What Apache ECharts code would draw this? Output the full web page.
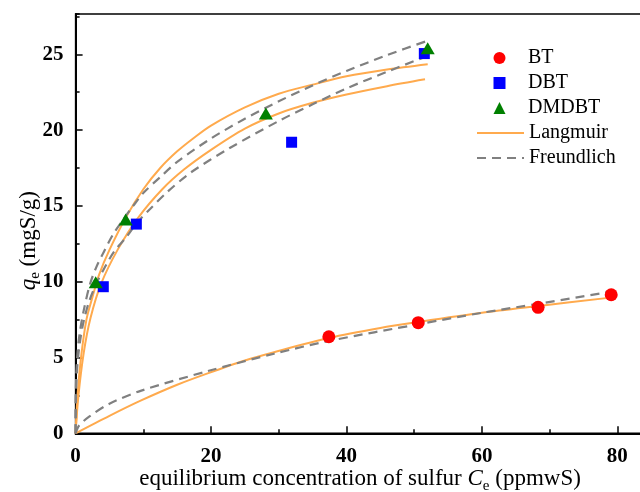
<!DOCTYPE html>
<html>
<head>
<meta charset="utf-8">
<script src="https://cdn.jsdelivr.net/npm/echarts@6/dist/echarts.min.js"></script>
<style>html,body{margin:0;padding:0;background:#fff;}#c{width:640px;height:492px;}</style>
</head>
<body>
<div id="c"></div>
<script>
// Experimental points
const btPoints = [[37.4, 6.37], [50.6, 7.3], [68.3, 8.31], [79.1, 9.14]];
const dbtPoints = [[4.09, 9.67], [8.97, 13.8], [31.9, 19.2], [51.5, 25.05]];
const dmdbtPoints = [[2.97, 9.96], [7.4, 14.1], [28.1, 21.1], [52.0, 25.4]];

// Fitted curves
const langmuirDMDBT = [[0,0],[0.3,2.6],[0.8,5.0],[1.6,7.5],[2.5,9.0],[3.5,10.5],[5,12.1],[7.5,14.3],[10,16.1],[12.5,17.5],[15,18.6],[17.5,19.5],[20,20.3],[25,21.5],[30,22.4],[35,23.0],[40,23.55],[46,24.0],[52,24.35]];
const langmuirDBT = [[0,0],[0.4,2.4],[1.2,5.3],[2.2,7.6],[3.8,9.9],[6.2,12.1],[9.2,14.2],[12.8,16.1],[16,17.4],[20,18.7],[25,20.1],[30,21.1],[35,21.8],[40,22.35],[46,22.9],[51.6,23.35]];
const langmuirBT = [[0,0],[5,1.15],[9.6,2.15],[15,3.2],[19.5,3.95],[25,4.8],[29.3,5.35],[37.5,6.3],[45,6.95],[50.7,7.35],[60,7.95],[68.4,8.4],[79,8.95]];
const freundlichDMDBT = [[0,0],[0.02,2.4],[0.1,3.9],[0.3,5.4],[0.6,6.6],[1.2,8.1],[2.1,9.8],[3,10.9],[4.2,12.0],[5.5,13.1],[6.7,13.9],[8.5,15.0],[10.1,15.9],[12.5,16.9],[15,17.9],[20,19.45],[25,20.75],[30,21.9],[35,22.95],[40,23.9],[46,24.95],[52,25.9]];
const freundlichDBT = [[0,0],[0.05,2.6],[0.3,4.7],[0.7,6.2],[1.2,7.4],[2,8.7],[3.1,9.9],[4.5,11.1],[5.7,12.0],[7.5,12.95],[9.1,13.9],[11,14.8],[13.5,15.9],[17,17.2],[22.7,18.8],[30,20.6],[35,21.7],[40,22.75],[46,23.85],[52,24.9]];
const freundlichBT = [[0,0],[0.5,0.5],[2,1.1],[5,1.95],[9.6,2.8],[19.5,4.1],[29.3,5.25],[37.5,6.1],[50.7,7.2],[60,7.95],[68.4,8.55],[79.1,9.35]];

const xTicks = {min: 0, max: 84, major: 20, minor: 10};
const yTicks = {min: 0, max: 27.66, major: 5, minor: 2.5};
const markerLegend = ['BT', 'DBT', 'DMDBT'];
const markerIcons = ['circle', 'rect', 'triangle'];
const lineLegend = ['Langmuir', 'Freundlich'];

const SERIF = '"Liberation Serif", "Times New Roman", serif';
const orange = '#FFAA4D';
const grey = '#808080';

function lineSeries(name, data, color, type, width) {
  return {
    name: name, type: 'line', data: data, smooth: 0.3, symbol: 'none',
    lineStyle: {color: color, width: width, type: type},
    itemStyle: {color: color}, z: 2, silent: true
  };
}

const legendText = {fontFamily: SERIF, fontSize: 20, color: '#000', lineHeight: 20};

const richName = {
  t: {fontFamily: SERIF, fontSize: 23, color: '#000'},
  i: {fontFamily: SERIF, fontSize: 23, fontStyle: 'italic', color: '#000'},
  s: {fontFamily: SERIF, fontSize: 15, color: '#000', padding: [13, 0, 0, 0]}
};

const chart = echarts.init(document.getElementById('c'), null, {renderer: 'canvas'});
const option = {
  animation: false,
  backgroundColor: '#fff',
  grid: {left: 75.6, top: 14, width: 568.8, height: 419.3, outerBoundsMode: 'none', containLabel: false,
    show: true, borderColor: '#000', borderWidth: 1.5, backgroundColor: 'transparent'},
  legend: [{
    data: markerLegend.map(function (n, i) { return {name: n, icon: markerIcons[i]}; }),
    orient: 'vertical', left: 493.5, top: 48, padding: 0,
    itemWidth: 12, itemHeight: 12, itemGap: 5,
    textStyle: Object.assign({padding: [0, 0, 0, 17.5]}, legendText)
  }, {
    data: lineLegend.map(function (n) { return {name: n, itemStyle: {opacity: 0, color: 'rgba(0,0,0,0)', borderWidth: 0}}; }),
    orient: 'vertical', left: 476, top: 123, padding: 0,
    itemWidth: 47, itemHeight: 12, itemGap: 5,
    textStyle: legendText
  }],
  xAxis: [{
    type: 'value', min: xTicks.min, max: xTicks.max, interval: xTicks.major,
    axisLine: {lineStyle: {color: '#000', width: 2}},
    axisTick: {inside: true, length: 7, lineStyle: {color: '#000', width: 1.5}},
    axisLabel: {fontFamily: SERIF, fontWeight: 'bold', fontSize: 21, color: '#000', margin: 13, showMaxLabel: false},
    splitLine: {show: false},
    name: '{t|equilibrium concentration of sulfur }{i|C}{s|e}{t| (ppmwS)}',
    nameLocation: 'middle', nameGap: 32, nameMoveOverlap: false,
    nameTextStyle: {fontFamily: SERIF, fontSize: 23, color: '#000', rich: richName}
  }, {
    type: 'value', min: xTicks.min, max: xTicks.max, interval: xTicks.minor, position: 'bottom',
    axisLine: {show: false}, axisLabel: {show: false}, splitLine: {show: false},
    axisTick: {inside: true, length: 4, lineStyle: {color: '#000', width: 1.5}}
  }],
  yAxis: [{
    type: 'value', min: yTicks.min, max: yTicks.max, interval: yTicks.major,
    axisLine: {lineStyle: {color: '#000', width: 2}},
    axisTick: {inside: true, length: 7, lineStyle: {color: '#000', width: 1.5}},
    axisLabel: {fontFamily: SERIF, fontWeight: 'bold', fontSize: 21, color: '#000', margin: 12, showMaxLabel: false},
    splitLine: {show: false},
    name: '{i|q}{s|e}{t| (mgS/g)}',
    nameLocation: 'middle', nameGap: 33, nameMoveOverlap: false,
    nameTextStyle: {fontFamily: SERIF, fontSize: 23, color: '#000', padding: [0, 34, 0, 0], rich: richName}
  }, {
    type: 'value', min: yTicks.min, max: yTicks.max, interval: yTicks.minor, position: 'left',
    axisLine: {show: false}, axisLabel: {show: false}, splitLine: {show: false},
    axisTick: {inside: true, length: 4, lineStyle: {color: '#000', width: 1.5}}
  }],
  series: [
    {name: 'BT', type: 'scatter', data: btPoints, symbol: 'circle', symbolSize: 13, itemStyle: {color: '#FF0000', opacity: 1}, z: 5},
    {name: 'DBT', type: 'scatter', data: dbtPoints, symbol: 'rect', symbolSize: 11, itemStyle: {color: '#0000FF', opacity: 1}, z: 5},
    {name: 'DMDBT', type: 'scatter', data: dmdbtPoints, symbol: 'triangle', symbolSize: [14, 12], itemStyle: {color: '#008000', opacity: 1}, z: 6},
    lineSeries('Langmuir', langmuirDMDBT, orange, 'solid', 2),
    lineSeries('Langmuir', langmuirDBT, orange, 'solid', 2),
    lineSeries('Langmuir', langmuirBT, orange, 'solid', 2),
    lineSeries('Freundlich', freundlichDMDBT, grey, [9, 6], 2.2),
    lineSeries('Freundlich', freundlichDBT, grey, [9, 6], 2.2),
    lineSeries('Freundlich', freundlichBT, grey, [9, 6], 2.2)
  ]
};
chart.setOption(option);
</script>
</body>
</html>
